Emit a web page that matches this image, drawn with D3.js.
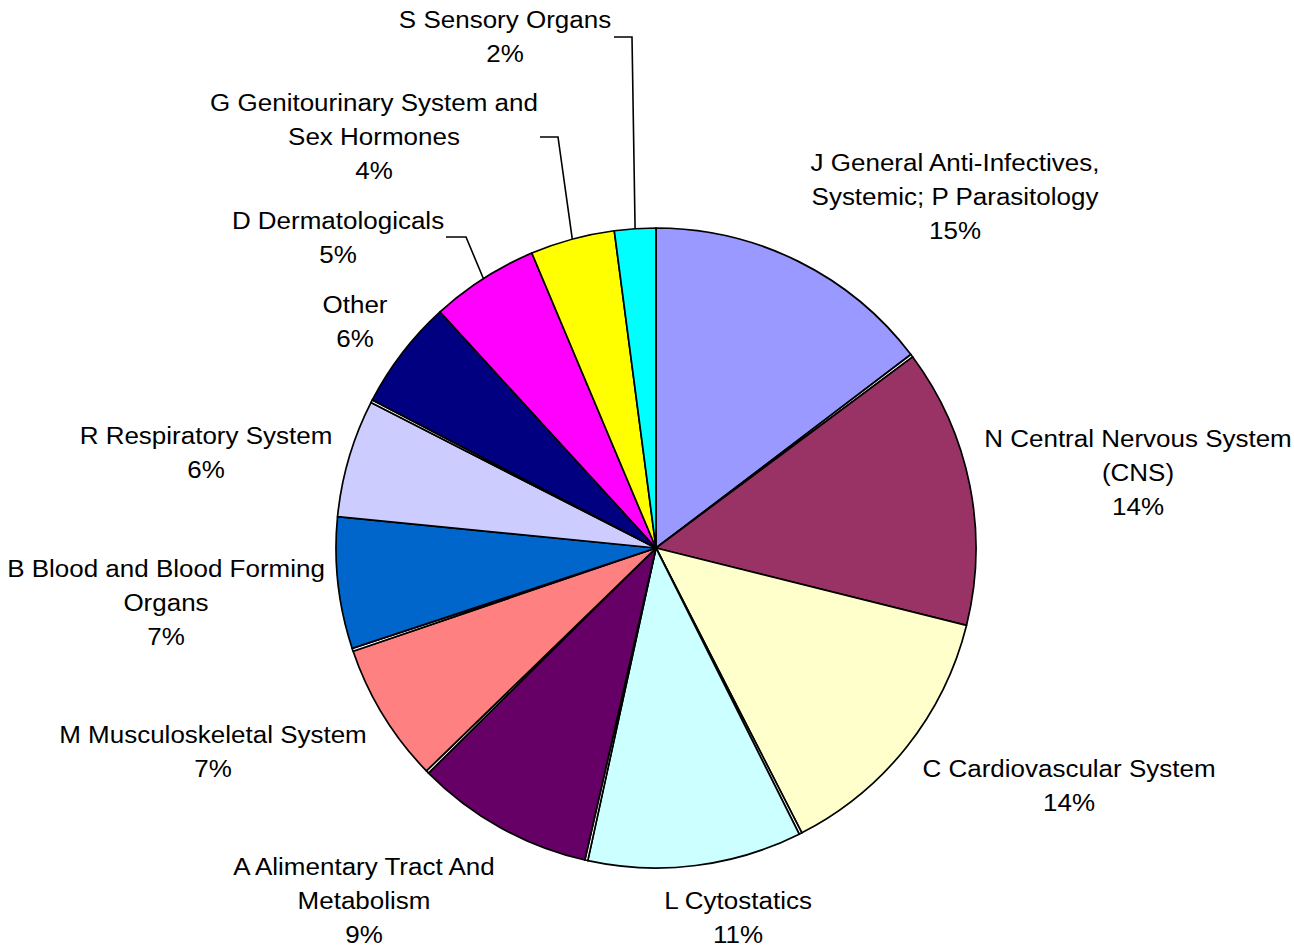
<!DOCTYPE html>
<html>
<head>
<meta charset="utf-8">
<script src="https://cdn.jsdelivr.net/npm/d3@7"></script>
<style>
  html, body { margin: 0; padding: 0; background: #fff; }
  svg { display: block; }
  text { font-family: "Liberation Sans", Arial, sans-serif; fill: #000; }
</style>
</head>
<body>
<svg id="chart" width="1294" height="951"></svg>
<script>
// ---- data ----
const categories = [
  "J General Anti-Infectives, Systemic; P Parasitology", "",
  "N Central Nervous System (CNS)",
  "C Cardiovascular System", "",
  "L Cytostatics", "",
  "A Alimentary Tract And Metabolism", "",
  "M Musculoskeletal System", "",
  "B Blood and Blood Forming Organs",
  "R Respiratory System", "",
  "Other",
  "D Dermatologicals",
  "G Genitourinary System and Sex Hormones",
  "S Sensory Organs"
];
const values = [14.8, 0.15, 14.2, 13.7, 0.15, 10.9, 0.15, 9.1, 0.15, 7.1, 0.15, 6.7, 6.0, 0.15, 5.6, 5.5, 4.3, 2.1];
const labelLines = [
  ["J General Anti-Infectives,", "Systemic; P Parasitology"], null,
  ["N Central Nervous System", "(CNS)"],
  ["C Cardiovascular System"], null,
  ["L Cytostatics"], null,
  ["A Alimentary Tract And", "Metabolism"], null,
  ["M Musculoskeletal System"], null,
  ["B Blood and Blood Forming", "Organs"],
  ["R Respiratory System"], null,
  ["Other"],
  ["D Dermatologicals"],
  ["G Genitourinary System and", "Sex Hormones"],
  ["S Sensory Organs"]
];

// ---- styles / layout ----
const colors = ["#9999FF", "#FFFFFF", "#993366", "#FFFFCC", "#FFFFFF", "#CCFFFF", "#FFFFFF", "#660066", "#FFFFFF",
                "#FF8080", "#FFFFFF", "#0066CC", "#CCCCFF", "#FFFFFF", "#000080", "#FF00FF", "#FFFF00", "#00FFFF"];
const cx = 656, cy = 548, R = 320;
const fontSize = 23, lineH = 34;
// label block centre x and first-line baseline y
const labelPos = {
  0: [955, 171], 2: [1138, 447], 3: [1069, 777], 5: [738, 909], 7: [364, 875],
  9: [213, 743], 11: [166, 577], 12: [206, 444], 14: [355, 313], 15: [338, 229],
  16: [374, 111], 17: [505, 28]
};
// leader elbows: [start x, elbow x, y]
const leaders = { 15: [446, 466, 237], 16: [540, 558, 137], 17: [614, 632, 37] };

const svg = d3.select("#chart");
const total = d3.sum(values);
const pie = d3.pie().sort(null).value(d => d)(values);
const arc = d3.arc().innerRadius(0).outerRadius(R);

const g = svg.append("g").attr("transform", `translate(${cx},${cy})`);
g.selectAll("path").data(pie).join("path")
  .attr("d", arc)
  .attr("fill", (d, i) => colors[i])
  .attr("stroke", "#000")
  .attr("stroke-width", 1.7)
  .attr("stroke-linejoin", "round");

// leader lines
Object.entries(leaders).forEach(([i, L]) => {
  const d = pie[+i];
  const a = (d.startAngle + d.endAngle) / 2;
  const px = cx + R * Math.sin(a), py = cy - R * Math.cos(a);
  svg.append("polyline")
    .attr("points", `${L[0]},${L[2]} ${L[1]},${L[2]} ${px},${py}`)
    .attr("fill", "none").attr("stroke", "#000").attr("stroke-width", 1.6);
});

// labels
labelLines.forEach((lines, i) => {
  if (!lines) return;
  const [x, y] = labelPos[i];
  const pct = Math.round(values[i] / total * 100) + "%";
  const all = lines.concat([pct]);
  const t = svg.append("g").attr("transform", `translate(${x},${y})`);
  all.forEach((s, k) => {
    t.append("text")
      .attr("x", 0).attr("y", k * lineH)
      .attr("text-anchor", "middle")
      .attr("font-size", fontSize)
      .attr("transform", "scale(1.13,1)")
      .text(s);
  });
});
</script>
</body>
</html>
